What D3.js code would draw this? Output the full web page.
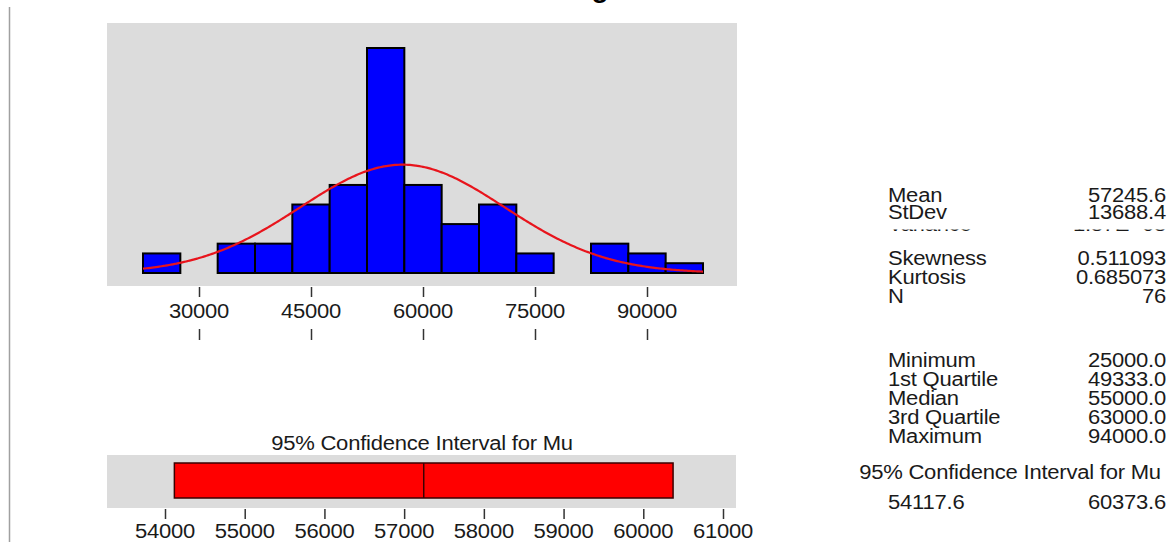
<!DOCTYPE html>
<html>
<head>
<meta charset="utf-8">
<script src="https://cdn.jsdelivr.net/npm/d3@7"></script>
<style>
  body { margin: 0; background: #fff; }
  svg { display: block; font-family: "Liberation Sans", Arial, sans-serif; }
</style>
</head>
<body>
<svg id="chart" width="1171" height="542"></svg>
<script>
// Histogram bins (lower edges) and counts, N = 76
const binStarts = [22500, 27500, 32500, 37500, 42500, 47500, 52500, 57500, 62500, 67500, 72500, 77500, 82500, 87500, 92500];
const binWidth = 5000;
const counts = [2, 0, 3, 3, 7, 9, 23, 9, 5, 7, 2, 0, 3, 2, 1];
const histTicks = [30000, 45000, 60000, 75000, 90000];

// Summary statistics
const mean = 57245.6;
const stdev = 13688.4;
const nObs = 76;
const ciMu = [54117.6, 60373.6];
const ciTicks = [54000, 55000, 56000, 57000, 58000, 59000, 60000, 61000];

const statLabels1 = ["Mean", "StDev"];
const statValues1 = ["57245.6", "13688.4"];
const statLabels2 = ["Skewness", "Kurtosis", "N"];
const statValues2 = ["0.511093", "0.685073", "76"];
const statLabels3 = ["Minimum", "1st Quartile", "Median", "3rd Quartile", "Maximum"];
const statValues3 = ["25000.0", "49333.0", "55000.0", "63000.0", "94000.0"];
const ciLabel = "95% Confidence Interval for Mu";

const svg = d3.select("#chart");
const textStretch = 1.13;
const fontSize = 19.5;

// Text helper: the reference type is a bit wide, so stretch it horizontally.
function label(g, x, y, str, anchor) {
  return g.append("text")
    .attr("transform", "translate(" + x + "," + y + ") scale(" + textStretch + ",1)")
    .attr("text-anchor", anchor || "start")
    .attr("font-size", fontSize)
    .attr("letter-spacing", -0.2)
    .attr("fill", "#1a1a1a")
    .text(str);
}

// Left margin rule
svg.append("line")
  .attr("x1", 9.5).attr("x2", 9.5).attr("y1", 7).attr("y2", 542)
  .attr("stroke", "#a0a0a0").attr("stroke-width", 1.5);

// Title, mostly cut off at the top edge
svg.append("text")
  .attr("x", 600).attr("y", -3)
  .attr("font-size", 28).attr("font-weight", "bold")
  .attr("text-anchor", "middle")
  .text("g");

//// Histogram
const x = d3.scaleLinear().domain([30000, 90000]).range([199, 647]);
const y = d3.scaleLinear().domain([0, 23]).range([273, 48]);

svg.append("rect")
  .attr("x", 107).attr("y", 23).attr("width", 630).attr("height", 263)
  .attr("fill", "#dcdcdc");

svg.append("g").selectAll("rect")
  .data(counts)
  .enter().append("rect")
  .attr("x", (d, i) => x(binStarts[i]))
  .attr("width", (d, i) => x(binStarts[i] + binWidth) - x(binStarts[i]))
  .attr("y", d => y(d))
  .attr("height", d => y(0) - y(d))
  .attr("fill", "#0000ff")
  .attr("stroke", "#000")
  .attr("stroke-width", 2);

// Fitted normal curve scaled to counts
const lo = binStarts[0], hi = binStarts[binStarts.length - 1] + binWidth;
const curve = d3.range(lo, hi + 1, 250).map(v => {
  const z = (v - mean) / stdev;
  return [v, nObs * binWidth * Math.exp(-0.5 * z * z) / (stdev * Math.sqrt(2 * Math.PI))];
});
svg.append("path")
  .datum(curve)
  .attr("fill", "none")
  .attr("stroke", "#e8141c")
  .attr("stroke-width", 2.2)
  .attr("d", d3.line().x(d => x(d[0])).y(d => y(d[1])).curve(d3.curveBasis));

// Axis: ticks above and below the labels
const histAxis = svg.append("g").attr("transform", "translate(0,287)")
  .call(d3.axisBottom(x).tickValues(histTicks).tickSize(10).tickFormat(""));
histAxis.select(".domain").remove();
histAxis.selectAll("line").attr("stroke", "#333").attr("stroke-width", 1.5);
histTicks.forEach(t => label(svg, x(t), 318, String(t), "middle"));
const histAxis2 = svg.append("g").attr("transform", "translate(0,329)")
  .call(d3.axisBottom(x).tickValues(histTicks).tickSize(11).tickFormat(""));
histAxis2.select(".domain").remove();
histAxis2.selectAll("line").attr("stroke", "#333").attr("stroke-width", 1.5);

//// Confidence interval for mu
const xc = d3.scaleLinear().domain([54000, 61000]).range([165, 723]);

label(svg, 422, 450, ciLabel, "middle");

svg.append("rect")
  .attr("x", 107).attr("y", 455).attr("width", 629).attr("height", 53)
  .attr("fill", "#dcdcdc");

svg.append("rect")
  .attr("x", xc(ciMu[0])).attr("y", 463)
  .attr("width", xc(ciMu[1]) - xc(ciMu[0])).attr("height", 35)
  .attr("fill", "#ff0000")
  .attr("stroke", "#3a0000").attr("stroke-width", 1.5);

svg.append("line")
  .attr("x1", xc(mean)).attr("x2", xc(mean)).attr("y1", 463).attr("y2", 498)
  .attr("stroke", "#3a0000").attr("stroke-width", 1.5);

const ciAxis = svg.append("g").attr("transform", "translate(0,509)")
  .call(d3.axisBottom(xc).tickValues(ciTicks).tickSize(10).tickFormat(""));
ciAxis.select(".domain").remove();
ciAxis.selectAll("line").attr("stroke", "#333").attr("stroke-width", 1.5);
ciTicks.forEach(t => label(svg, xc(t), 538, String(t), "middle"));

//// Stats panel
const labX = 888, valX = 1166;
const rowsA = [195, 212];
const rowsB = [258, 277, 296];
const rowsC = [360, 379, 398, 417, 436];

statLabels1.forEach((s, i) => {
  label(svg, labX, rowsA[i] + 7, s, "start");
  label(svg, valX, rowsA[i] + 7, statValues1[i], "end");
});

// Variance row, hidden except for the bottom pixels
const clip = svg.append("clipPath").attr("id", "varclip");
clip.append("rect").attr("x", 870).attr("y", 229.5).attr("width", 301).attr("height", 1.5);
const varRow = svg.append("g").attr("clip-path", "url(#varclip)");
label(varRow, labX, 231, "Variance", "start");
label(varRow, valX, 231, "1.87E+08", "end");

statLabels2.forEach((s, i) => {
  label(svg, labX, rowsB[i] + 7, s, "start");
  label(svg, valX, rowsB[i] + 7, statValues2[i], "end");
});
statLabels3.forEach((s, i) => {
  label(svg, labX, rowsC[i] + 7, s, "start");
  label(svg, valX, rowsC[i] + 7, statValues3[i], "end");
});

label(svg, 1010, 479, ciLabel, "middle");
label(svg, 888, 509, ciMu[0].toFixed(1), "start");
label(svg, valX, 509, ciMu[1].toFixed(1), "end");
</script>
</body>
</html>
